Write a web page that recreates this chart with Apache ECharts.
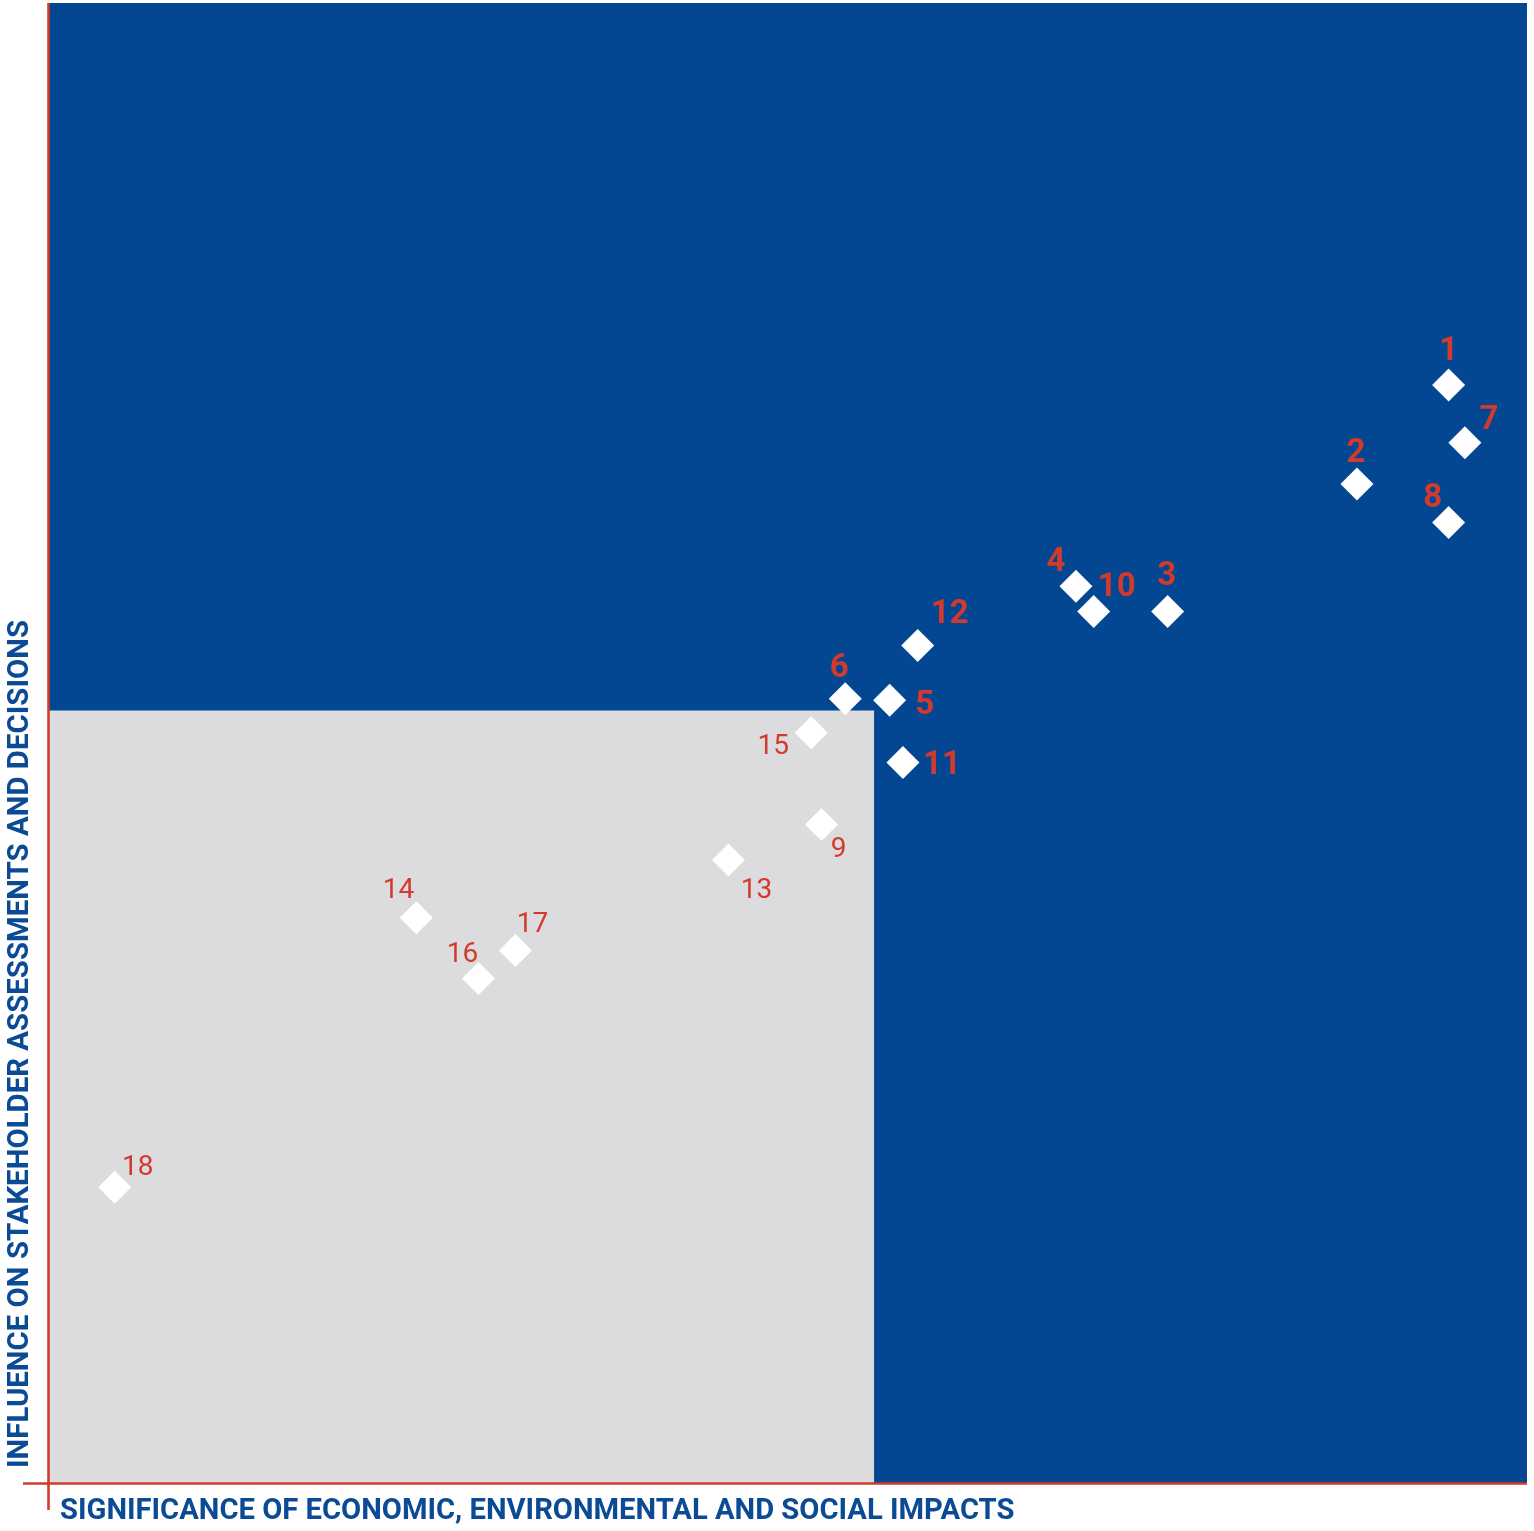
<!DOCTYPE html>
<html>
<head>
<meta charset="utf-8">
<title>Materiality matrix</title>
<script src="https://cdn.jsdelivr.net/npm/echarts@6/dist/echarts.min.js"></script>
<style>
  html, body { margin: 0; padding: 0; background: #ffffff; }
  #chart { width: 1534px; height: 1531px; }
</style>
</head>
<body>
<div id="chart"></div>
<script>
// Topic numbers and their scores (0–100 on both axes)
const topicIds   = [1, 7, 2, 8, 4, 10, 3, 12, 6, 5, 15, 11, 9, 13, 14, 17, 16, 18];
const impactX    = [94.7, 95.8, 88.5, 94.7, 69.5, 70.7, 75.7, 58.8, 53.9, 56.9, 51.6, 57.8, 52.3, 46.0, 24.9, 31.6, 29.1, 4.5];
const influenceY = [74.2, 70.3, 67.5, 64.9, 60.6, 58.9, 58.9, 56.6, 53.0, 52.9, 50.7, 48.7, 44.5, 42.1, 38.2, 36.0, 34.1, 20.0];
// Material topics (bold labels)
const materialIds = [1, 2, 3, 4, 5, 6, 7, 8, 10, 11, 12];
// Threshold box for the non-material zone
const thresholdX = 55.85;
const thresholdY = 52.2;

// Label placement around each diamond (pixel offsets from the marker centre)
const labelOffset = {
  1: [0, -33], 7: [24, -22], 2: [-1, -30], 8: [-16, -24], 4: [-20, -24],
  10: [23, -24], 3: [-1, -35], 12: [32, -31], 6: [-6, -30], 5: [35, 6],
  15: [-38, 14], 11: [39, 3], 9: [17, 25], 13: [28, 31], 14: [-18, -27],
  17: [17, -25], 16: [-16, -24], 18: [23, -19]
};

const BLUE = '#034793';
const GREY = '#DCDCDE';
const RED = '#D13A2C';
const TITLE_BLUE = '#0B4A95';

const points = topicIds.map((id, i) => {
  const bold = materialIds.indexOf(id) >= 0;
  return {
    value: [impactX[i], influenceY[i]],
    name: String(id),
    label: {
      show: true,
      position: 'inside',
      offset: labelOffset[id],
      formatter: '{b}',
      color: RED,
      opacity: 1,
      fontFamily: 'Roboto',
      fontWeight: bold ? 'bold' : 'normal',
      fontSize: bold ? 33 : 28
    }
  };
});

const chart = echarts.init(document.getElementById('chart'), null, { renderer: 'canvas' });

chart.setOption({
  animation: false,
  backgroundColor: '#ffffff',
  grid: { left: 23, right: 7, top: 3, bottom: 21 },
  xAxis: { type: 'value', min: -1.7, max: 100, show: false },
  yAxis: { type: 'value', min: -1.8, max: 100, show: false },
  graphic: [
    {
      type: 'text',
      x: 60,
      y: 1512,
      style: {
        text: 'SIGNIFICANCE OF ECONOMIC, ENVIRONMENTAL AND SOCIAL IMPACTS',
        font: 'bold 29.2px Roboto',
        fill: TITLE_BLUE,
        align: 'left',
        verticalAlign: 'middle'
      }
    },
    {
      type: 'text',
      x: 21,
      y: 1468,
      rotation: Math.PI / 2,
      style: {
        text: 'INFLUENCE ON STAKEHOLDER ASSESSMENTS AND DECISIONS',
        font: 'bold 29.4px Roboto',
        fill: TITLE_BLUE,
        align: 'left',
        verticalAlign: 'middle'
      }
    }
  ],
  series: [
    {
      type: 'scatter',
      symbol: 'diamond',
      symbolSize: 33,
      itemStyle: { color: '#ffffff', opacity: 1 },
      emphasis: { disabled: true },
      data: points,
      z: 5,
      markArea: {
        silent: true,
        data: [
          [
            { xAxis: 0, yAxis: 0, itemStyle: { color: BLUE, opacity: 1 } },
            { xAxis: 100, yAxis: 100 }
          ],
          [
            { xAxis: 0, yAxis: 0, itemStyle: { color: GREY, opacity: 1 } },
            { xAxis: thresholdX, yAxis: thresholdY }
          ]
        ]
      },
      markLine: {
        silent: true,
        symbol: 'none',
        label: { show: false },
        lineStyle: { color: RED, width: 2.6, type: 'solid', opacity: 1 },
        data: [{ xAxis: 0 }, { yAxis: 0 }]
      }
    }
  ]
});
</script>
</body>
</html>
